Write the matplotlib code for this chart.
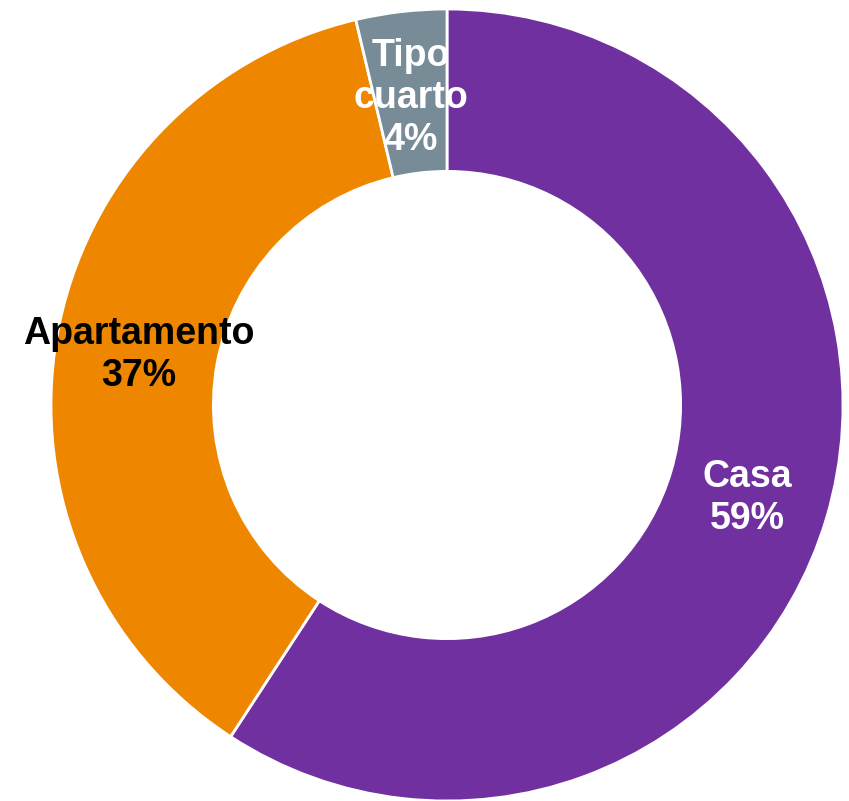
import numpy as np
import matplotlib.pyplot as plt

plt.rcParams['font.family'] = ['Liberation Sans', 'DejaVu Sans']

# shares (percent)
categories = ['Casa', 'Apartamento', 'Tipo\ncuarto']
shares = [59.2, 37.1, 3.7]
pct_labels = ['59%', '37%', '4%']
colors = ['#7030A0', '#EE8600', '#778C96']
text_colors = ['white', 'black', 'white']

fig = plt.figure(figsize=(8.49, 8.01), dpi=100)
ax = fig.add_axes([51 / 849, 0, 792 / 849, 792 / 801])

wedges, _ = ax.pie(shares, colors=colors, startangle=90, counterclock=False,
                   radius=1.0,
                   wedgeprops=dict(width=0.41, edgecolor='white', linewidth=2))

# labels at mid-angle of each wedge
for w, cat, pct, tc in zip(wedges, categories, pct_labels, text_colors):
    ang = np.deg2rad((w.theta1 + w.theta2) / 2)
    r = 0.79
    ax.text(r * np.cos(ang), r * np.sin(ang) - 0.01, f'{cat}\n{pct}',
            ha='center', va='center', fontsize=27, fontweight='bold',
            color=tc, linespacing=1.22)

ax.set_xlim(-1, 1)
ax.set_ylim(-1, 1)
ax.set_aspect('equal')
ax.axis('off')

fig.savefig('out.png', dpi=100)
